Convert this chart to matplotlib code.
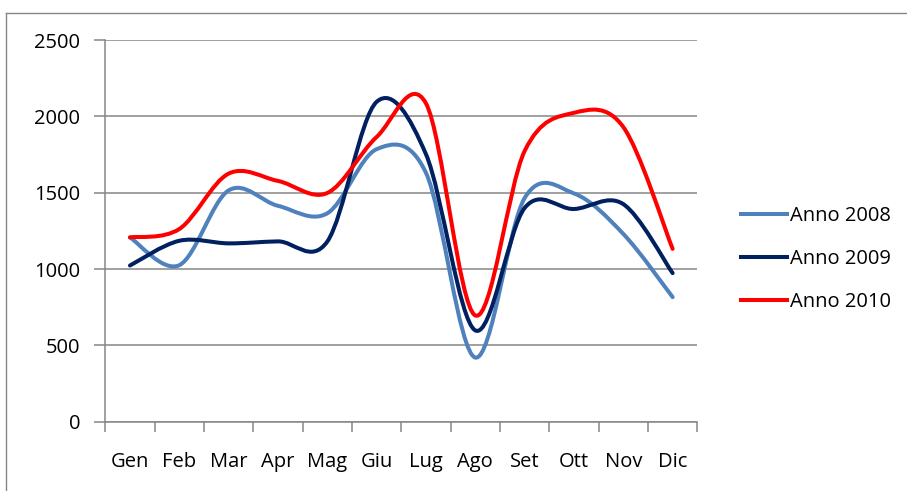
import matplotlib
matplotlib.use("Agg")
import matplotlib.pyplot as plt
from matplotlib.path import Path
from matplotlib.patches import PathPatch
from matplotlib.lines import Line2D
import numpy as np

months = ["Gen", "Feb", "Mar", "Apr", "Mag", "Giu", "Lug", "Ago", "Set", "Ott", "Nov", "Dic"]
anno_2008 = [1207, 1025, 1515, 1414, 1365, 1785, 1630, 420, 1465, 1495, 1230, 816]
anno_2009 = [1023, 1185, 1168, 1181, 1180, 2095, 1752, 598, 1400, 1393, 1425, 973]
anno_2010 = [1207, 1262, 1625, 1577, 1498, 1865, 2085, 696, 1773, 2023, 1930, 1132]
series_labels = ["Anno 2008", "Anno 2009", "Anno 2010"]
series_colors = ["#4F81BD", "#002060", "#FF0000"]
y_ticks = [0, 500, 1000, 1500, 2000, 2500]

plt.rcParams['font.family'] = ['Open Sans', 'DejaVu Sans']

fig = plt.figure(figsize=(9.07, 4.91), dpi=100)
ax = fig.add_axes([105.3/907, 1-421.7/491, (697.3-105.3)/907, (421.7-40)/491])

def smooth_path(xs, ys):
    pts = np.column_stack([xs, ys]).astype(float)
    n = len(pts)
    verts = [pts[0]]
    codes = [Path.MOVETO]
    for i in range(n - 1):
        p0 = pts[i - 1] if i > 0 else pts[i]
        p1 = pts[i]
        p2 = pts[i + 1]
        p3 = pts[i + 2] if i + 2 < n else pts[i + 1]
        c1 = p1 + (p2 - p0) / 6.0
        c2 = p2 - (p3 - p1) / 6.0
        verts += [c1, c2, p2]
        codes += [Path.CURVE4] * 3
    return Path(verts, codes)

x = np.arange(len(months))
handles = []
for vals, lab, col in zip([anno_2008, anno_2009, anno_2010], series_labels, series_colors):
    patch = PathPatch(smooth_path(x, vals), facecolor="none", edgecolor=col,
                      lw=2.9, capstyle="round", joinstyle="round", zorder=3)
    ax.add_patch(patch)
    handles.append(Line2D([], [], color=col, lw=2.9))

fs = 14.5
ax.set_xlim(-0.5, len(months) - 0.5)
ax.set_ylim(0, 2500)
ax.set_yticks(y_ticks)
ax.set_yticklabels([str(v) for v in y_ticks])
ax.set_xticks(x)
ax.set_xticklabels(months)
ax.set_xticks(np.arange(-0.5, len(months)), minor=True)
ax.tick_params(axis="x", which="major", length=0, pad=22, labelsize=fs, colors="#000000")
ax.tick_params(axis="x", which="minor", length=7, width=1.1, color="#868686")
ax.tick_params(axis="y", length=8, width=1.1, color="#868686", pad=10, labelsize=fs,
               labelcolor="#000000")

ax.grid(axis="y", color="#868686", lw=1.1, zorder=0)
ax.set_axisbelow(True)
for s in ["top", "right"]:
    ax.spines[s].set_visible(False)
for s in ["left", "bottom"]:
    ax.spines[s].set_color("#868686")
    ax.spines[s].set_linewidth(1.1)

leg = fig.legend(handles, series_labels, loc="upper left",
                 bbox_to_anchor=(733/907, 1-198/491), frameon=False,
                 fontsize=fs, handlelength=2.3, handletextpad=0.15,
                 labelspacing=1.15, borderaxespad=0)

# outer border (top and left edges visible)
fig.add_artist(Line2D([6/907, 6/907], [0, 1-13/491], transform=fig.transFigure,
                      color="#868686", lw=1.0))
fig.add_artist(Line2D([6/907, 1], [1-13/491, 1-13/491], transform=fig.transFigure,
                      color="#868686", lw=1.0))

fig.savefig("out.png", dpi=100)
